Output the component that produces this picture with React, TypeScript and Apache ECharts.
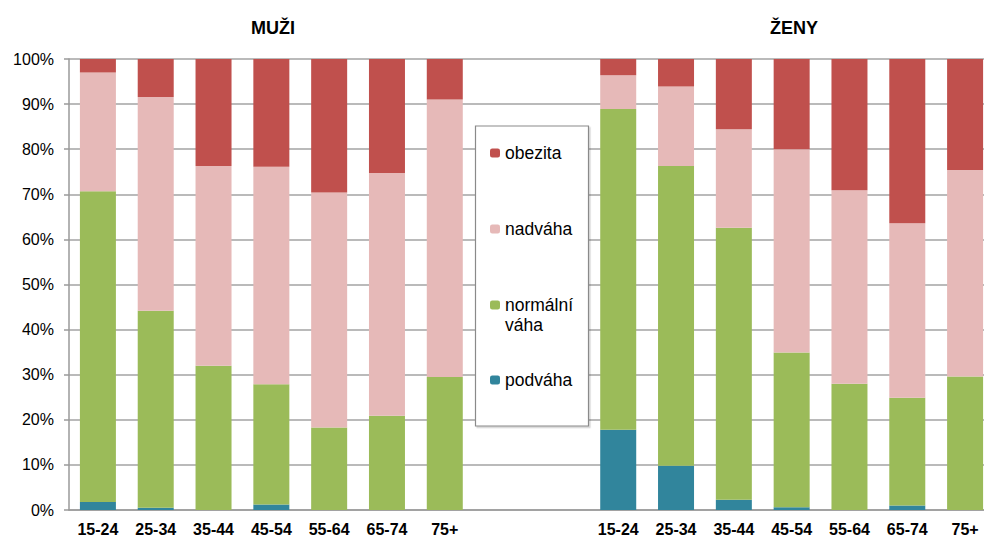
import React, { useEffect, useRef } from "react";
import * as echarts from "echarts";

const ageGroups = ["15-24", "25-34", "35-44", "45-54", "55-64", "65-74", "75+"];
const groupTitles = ["MUŽI", "ŽENY"];
const seriesNames = ["podváha", "normální váha", "nadváha", "obezita"];
const seriesColors = ["#31859C", "#9BBB59", "#E6B9B8", "#C0504D"];

const menPodvaha = [1.8, 0.5, 0, 1.2, 0, 0, 0];
const menNormalni = [68.9, 43.7, 32.0, 26.7, 18.3, 20.9, 29.5];
const menNadvaha = [26.3, 47.4, 44.3, 48.2, 52.1, 53.8, 61.5];
const menObezita = [3.0, 8.4, 23.7, 23.9, 29.6, 25.3, 9.0];

const womenPodvaha = [17.8, 9.8, 2.3, 0.6, 0, 1.0, 0];
const womenNormalni = [71.1, 66.5, 60.3, 34.3, 28.0, 23.9, 29.6];
const womenNadvaha = [7.5, 17.6, 21.8, 45.1, 42.9, 38.7, 45.8];
const womenObezita = [3.6, 6.1, 15.6, 20.0, 29.1, 36.4, 24.6];

const yTicks = [0, 10, 20, 30, 40, 50, 60, 70, 80, 90, 100];

const gapSlots = ["gap1", "gap2"];

const axisKeys = [
  ...ageGroups.map((a) => "M|" + a),
  ...gapSlots,
  ...ageGroups.map((a) => "Z|" + a),
];

const join = (m: number[], w: number[]) => [...m, "-", "-", ...w];

const seriesData = [
  join(menPodvaha, womenPodvaha),
  join(menNormalni, womenNormalni),
  join(menNadvaha, womenNadvaha),
  join(menObezita, womenObezita),
];

// legend item marker centres (y)
const legendCenters = [153, 229, 305, 380];
const legendOrder = [3, 2, 1, 0];

export default function App() {
  const ref = useRef<HTMLDivElement>(null);
  useEffect(() => {
    if (!ref.current) return;
    const chart = echarts.init(ref.current, undefined, { renderer: "svg" });
    const font = "Liberation Sans, Arial, sans-serif";
    const legends = legendOrder.map((si, k) => {
      const multi = seriesNames[si].includes(" ");
      return {
        show: true,
        data: [seriesNames[si]],
        orient: "vertical",
        left: 490,
        top: multi ? legendCenters[k] - 30 : legendCenters[k] - 9,
        padding: 0,
        itemWidth: 10,
        itemHeight: 9,
        z: 60,
        selectedMode: false,
        formatter: (n: string) =>
          n.includes(" ") ? " \n" + n.replace(" ", "\n") : n,
        textStyle: {
          fontFamily: font,
          fontSize: 17.5,
          color: "#000",
          lineHeight: multi ? 20 : undefined,
        },
      };
    });
    chart.setOption({
      animation: false,
      backgroundColor: "#fff",
      grid: {
        left: 69,
        top: 59,
        width: 925,
        height: 451,
        containLabel: false,
        outerBoundsMode: "none",
      },
      legend: legends,
      xAxis: {
        type: "category",
        data: axisKeys,
        axisLine: { lineStyle: { color: "#9a9a9a", width: 1.5 } },
        axisTick: { show: false },
        axisLabel: {
          interval: 0,
          margin: 12,
          lineHeight: 14,
          fontFamily: font,
          fontSize: 16,
          fontWeight: "bold",
          color: "#000",
          formatter: (v: string) => (v.includes("|") ? v.split("|")[1] : ""),
        },
      },
      yAxis: {
        type: "value",
        min: 0,
        max: 100,
        interval: 10,
        axisLine: { show: true, lineStyle: { color: "#9a9a9a", width: 1.5 } },
        axisTick: { show: true, length: 5, lineStyle: { color: "#9a9a9a", width: 1.5 } },
        splitLine: { lineStyle: { color: "#a3a3a3", width: 1.5 } },
        axisLabel: {
          margin: 15,
          fontFamily: font,
          fontSize: 16,
          color: "#000",
          customValues: yTicks,
          formatter: "{value}%",
        },
      },
      graphic: [
        {
          type: "rect",
          z: 50,
          shape: { x: 475.5, y: 126, width: 113, height: 300 },
          style: {
            fill: "#fff",
            stroke: "#8a8a8a",
            lineWidth: 1.2,
            shadowColor: "rgba(0,0,0,0.18)",
            shadowOffsetX: 1.5,
            shadowOffsetY: 1.5,
            shadowBlur: 1,
          },
        },
        ...groupTitles.map((t, i) => ({
          type: "text",
          x: i === 0 ? 273 : 794,
          y: 28,
          style: {
            text: t,
            font: "bold 18px " + font,
            fill: "#000",
            textAlign: "center",
            textVerticalAlign: "middle",
          },
        })),
      ],
      series: seriesNames.map((name, i) => ({
        name,
        type: "bar",
        stack: "all",
        barWidth: 36,
        data: seriesData[i],
        itemStyle: { color: seriesColors[i] },
      })),
    });
    return () => chart.dispose();
  }, []);
  return (
    <div
      ref={ref}
      style={{ position: "absolute", left: 0, top: 0, width: 984, height: 536 }}
    />
  );
}
